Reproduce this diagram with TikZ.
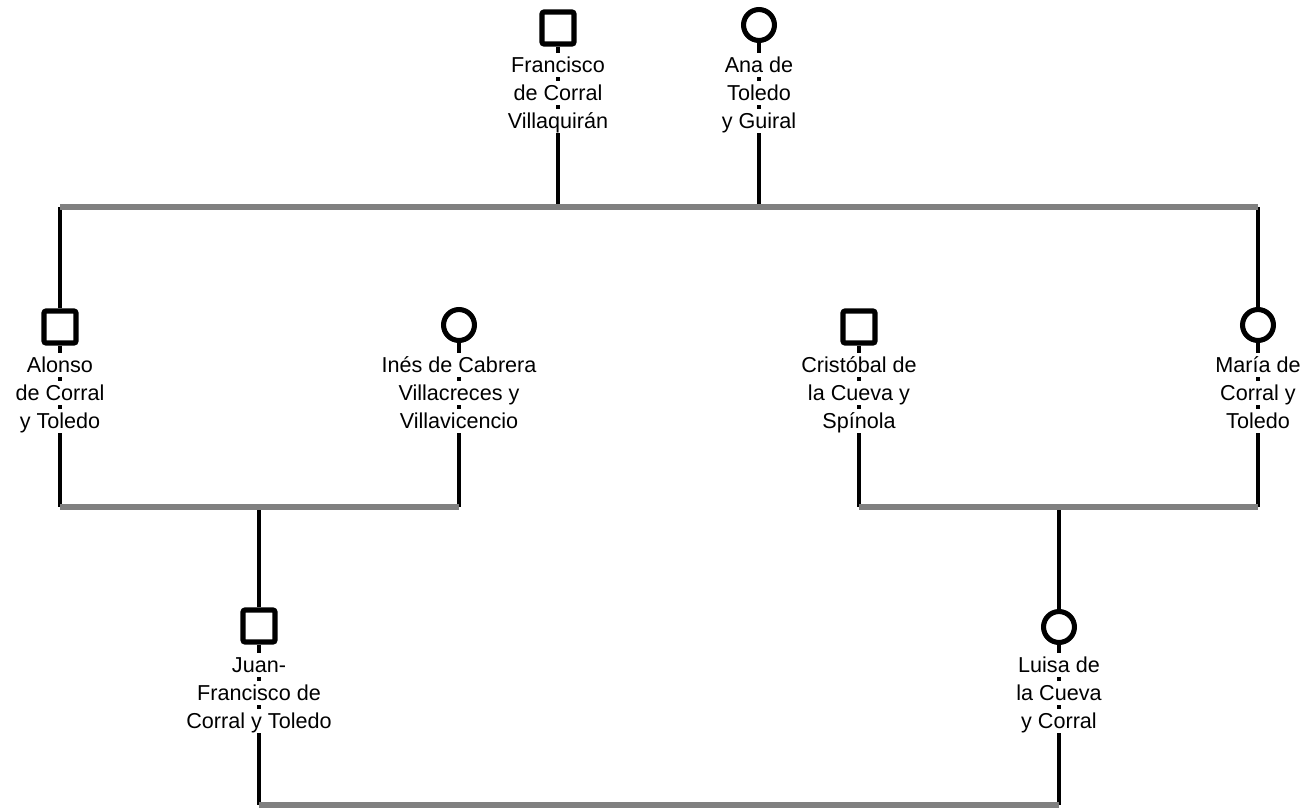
\documentclass[tikz,border=0pt]{standalone}
\usepackage{fontspec}
\setmainfont{Liberation Sans}
\usepackage{xcolor}
\usepackage{tikz}

\setlength{\fboxsep}{0pt}
\newcommand{\nameline}[1]{\colorbox{white}{\rule[-3.4pt]{0pt}{18pt}#1}}
\newcommand{\threelines}[3]{\nameline{#1}\\\nameline{#2}\\\nameline{#3}}

\tikzset{
  male/.style={draw=black, fill=white, line width=3.8pt, rectangle, rounded corners=1.5pt, minimum size=24pt, inner sep=0pt},
  female/.style={draw=black, fill=white, line width=3.8pt, circle, minimum size=23.2pt, inner sep=0pt},
  kin/.style={draw=black, line width=3.4pt},
  couple/.style={draw={rgb, 255:red, 128; green, 128; blue, 128}, line width=3.9pt},
  personname/.style={anchor=north, inner sep=0pt, align=center, font=\fontsize{16.2pt}{21pt}\selectfont}
}

\begin{document}
\begin{tikzpicture}[x=0.75pt,y=0.75pt,yscale=-1,xscale=1]
\useasboundingbox (0,0) rectangle (1304,808);

%Shape: Square and Circle
\node[male] (francisco) at (558,28) {};
\node[female] (ana) at (759,25) {};
\node[male] (alonso) at (60,327) {};
\node[female] (ines) at (459,325) {};
\node[male] (cristobal) at (859,327) {};
\node[female] (maria) at (1258,325) {};
\node[male] (juan) at (259,626) {};
\node[female] (luisa) at (1059,627) {};

% Bars
\coordinate (topbar) at (60,207);
\coordinate (leftbar) at (60,507);
\coordinate (rightbar) at (859,507);
\coordinate (lowbar) at (259,805);

%Straight Lines
\draw[kin] (francisco) -- (francisco |- topbar);
\draw[kin] (ana) -- (ana |- topbar);
\draw[kin] (alonso |- topbar) -- (alonso) -- (alonso |- leftbar);
\draw[kin] (ines) -- (ines |- leftbar);
\draw[kin] (cristobal) -- (cristobal |- rightbar);
\draw[kin] (maria |- topbar) -- (maria) -- (maria |- rightbar);
\draw[kin] (juan |- leftbar) -- (juan) -- (juan |- lowbar);
\draw[kin] (luisa |- rightbar) -- (luisa) -- (luisa |- lowbar);

%Straight Lines
\draw[couple] (topbar) -- (maria |- topbar);
\draw[couple] (leftbar) -- (ines |- leftbar);
\draw[couple] (rightbar) -- (maria |- rightbar);
\draw[couple] (lowbar) -- (luisa |- lowbar);

% Text Node
\node[personname] (francisconame) at (558,53) {\threelines{Francisco}{de Corral}{Villaquirán}};
% Text Node
\node[personname] (ananame) at (759,53) {\threelines{Ana de}{Toledo}{y Guiral}};
% Text Node
\node[personname] (alonsoname) at (60,353) {\threelines{Alonso}{de Corral}{y Toledo}};
% Text Node
\node[personname] (inesname) at (459,353) {\threelines{Inés de Cabrera}{Villacreces y}{Villavicencio}};
% Text Node
\node[personname] (cristobalname) at (859,353) {\threelines{Cristóbal de}{la Cueva y}{Spínola}};
% Text Node
\node[personname] (marianame) at (1258,353) {\threelines{María de}{Corral y}{Toledo}};
% Text Node
\node[personname] (juanname) at (259,653) {\threelines{Juan-}{Francisco de}{Corral y Toledo}};
% Text Node
\node[personname] (luisaname) at (1059,653) {\threelines{Luisa de}{la Cueva}{y Corral}};
\end{tikzpicture}
\end{document}
